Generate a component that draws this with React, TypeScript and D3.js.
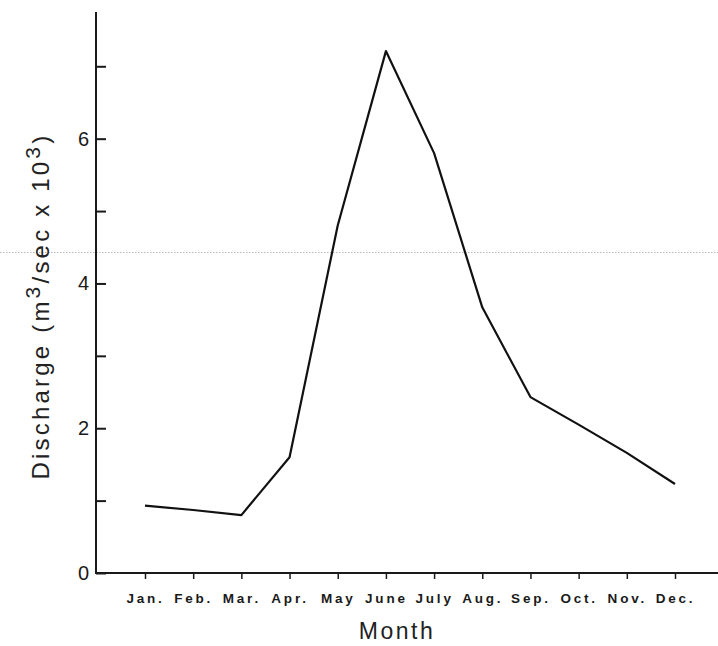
import { useEffect, useRef } from "react";
import * as d3 from "d3";

const months = ["Jan.", "Feb.", "Mar.", "Apr.", "May", "June", "July", "Aug.", "Sep.", "Oct.", "Nov.", "Dec."];
const discharge = [0.93, 0.87, 0.8, 1.6, 4.8, 7.21, 5.8, 3.67, 2.43, 2.05, 1.66, 1.23];
const yTicks = [0, 1, 2, 3, 4, 5, 6, 7];
const yLabelled = [0, 2, 4, 6];

const W = 718;
const H = 646;
const axisX = 96;
const axisY = 573;
const font = "'Liberation Sans', Arial, Helvetica, sans-serif";

export default function App() {
  const ref = useRef<SVGSVGElement | null>(null);

  useEffect(() => {
    if (!ref.current) return;
    const svg = d3.select(ref.current);
    svg.selectAll("*").remove();

    const x = d3.scalePoint<string>().domain(months).range([145, 675]);
    const y = d3.scaleLinear().domain([0, 7.75]).range([axisY, 12]);

    // faint scan line across the page
    svg.append("line")
      .attr("x1", 0).attr("x2", W)
      .attr("y1", 252.5).attr("y2", 252.5)
      .attr("stroke", "#b8b8b8")
      .attr("stroke-width", 1)
      .attr("stroke-dasharray", "1.5,1.5");

    // axis lines
    svg.append("line")
      .attr("x1", axisX).attr("x2", axisX)
      .attr("y1", y(7.75)).attr("y2", axisY + 1)
      .attr("stroke", "#1a1a1a").attr("stroke-width", 2);
    svg.append("line")
      .attr("x1", axisX - 1).attr("x2", W)
      .attr("y1", axisY).attr("y2", axisY)
      .attr("stroke", "#1a1a1a").attr("stroke-width", 2);

    // y ticks point inward, only even values are labelled
    const yAxis = svg.append("g")
      .attr("transform", `translate(${axisX},0)`)
      .call(
        d3.axisLeft(y)
          .tickValues(yTicks)
          .tickSizeInner(-10)
          .tickSizeOuter(0)
          .tickPadding(7)
          .tickFormat((d) => (yLabelled.includes(d as number) ? String(d) : ""))
      );
    yAxis.select(".domain").remove();
    yAxis.selectAll("line").attr("stroke", "#1a1a1a").attr("stroke-width", 2);
    yAxis.selectAll("text")
      .attr("font-family", font)
      .attr("font-size", 20)
      .attr("fill", "#1a1a1a");

    // x ticks and month labels
    const xAxis = svg.append("g")
      .attr("transform", `translate(0,${axisY})`)
      .call(d3.axisBottom(x).tickSizeInner(6).tickSizeOuter(0).tickPadding(14));
    xAxis.select(".domain").remove();
    xAxis.selectAll("line").attr("stroke", "#1a1a1a").attr("stroke-width", 1.5);
    xAxis.selectAll("text")
      .attr("font-family", font)
      .attr("font-size", 13.5)
      .attr("font-weight", "bold")
      .attr("letter-spacing", 2.8)
      .attr("fill", "#1a1a1a");

    const line = d3.line<number>()
      .x((_, i) => x(months[i]) as number)
      .y((d) => y(d));
    svg.append("path")
      .datum(discharge)
      .attr("fill", "none")
      .attr("stroke", "#111")
      .attr("stroke-width", 2.2)
      .attr("stroke-linejoin", "round")
      .attr("d", line);

    svg.append("text")
      .attr("x", 397).attr("y", 639)
      .attr("text-anchor", "middle")
      .attr("font-family", font)
      .attr("font-size", 23)
      .attr("letter-spacing", 2.5)
      .attr("fill", "#222")
      .text("Month");

    const yt = svg.append("text")
      .attr("transform", "translate(49,306) rotate(-90)")
      .attr("text-anchor", "middle")
      .attr("font-family", font)
      .attr("font-size", 24)
      .attr("letter-spacing", 3.2)
      .attr("fill", "#222");
    yt.append("tspan").text("Discharge (m");
    yt.append("tspan").attr("dy", -9).attr("font-size", 21).text("3");
    yt.append("tspan").attr("dy", 9).text("/sec x 10");
    yt.append("tspan").attr("dy", -9).attr("font-size", 21).text("3");
    yt.append("tspan").attr("dy", 9).text(")");
  }, []);

  return (
    <svg
      ref={ref}
      width={W}
      height={H}
      style={{ position: "absolute", left: 0, top: 0, background: "#fff" }}
    />
  );
}
